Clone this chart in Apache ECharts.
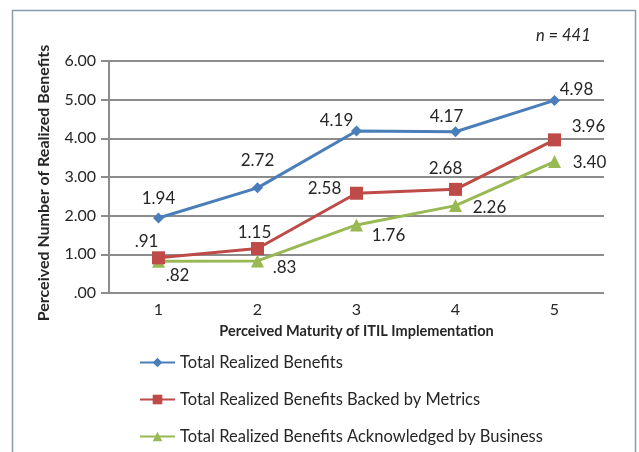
<!DOCTYPE html>
<html><head><meta charset="utf-8">
<script src="https://cdn.jsdelivr.net/npm/echarts@6/dist/echarts.min.js"></script>
<style>html,body{margin:0;padding:0;background:#fff}#c{width:639px;height:452px}</style>
</head><body><div id="c"></div>
<script>
var categories = ['1','2','3','4','5'];
var seriesNames = ['Total Realized Benefits','Total Realized Benefits Backed by Metrics','Total Realized Benefits Acknowledged by Business'];
var totalRealized = [1.94, 2.72, 4.19, 4.17, 4.98];
var backedByMetrics = [0.91, 1.15, 2.58, 2.68, 3.96];
var acknowledgedByBusiness = [0.82, 0.83, 1.76, 2.26, 3.40];
var yTicks = [0, 1, 2, 3, 4, 5, 6];

// label offsets (style only)
var offs = [
  [[0,-19],[0,-27],[-20,-10],[-9,-15],[22,-11]],
  [[-12,-16],[-3,-16],[-32,-5],[-10,-21],[34,-13]],
  [[19,14],[27,7],[32,11],[34,2],[35,1]]
];
function fmt(v){ var s = v.toFixed(2); return v < 1 ? s.slice(1) : s; }
function build(arr, k){
  return arr.map(function(v,i){
    return {value:v, label:{offset:offs[k][i]}};
  });
}
var FONT = 'Lato';
var colors = ['#4A7EBB','#BE4B48','#98B954'];
var symbols = ['diamond','rect','triangle'];
var sizes = [11,13,13];
var data = [totalRealized, backedByMetrics, acknowledgedByBusiness];
var series = data.map(function(arr,k){
  return {
    name: seriesNames[k], type:'line', data: build(arr,k),
    symbol: symbols[k], symbolSize: sizes[k],
    lineStyle:{width:3, color:colors[k]},
    itemStyle:{color:colors[k]},
    label:{show:true, position:'inside', formatter:function(p){return fmt(p.value);},
      color:'#262626', fontSize:17, fontFamily:FONT},
    emphasis:{disabled:true}, animation:false, z: 3-k
  };
});
var chart = echarts.init(document.getElementById('c'));
chart.setOption({
  animation:false,
  textStyle:{fontFamily:FONT},
  grid:{left:109, top:61, width:495, height:232},
  xAxis:{type:'category', data:categories, boundaryGap:true,
    axisLine:{show:false}, axisTick:{show:false},
    axisLabel:{color:'#262626', fontSize:16, fontFamily:FONT, margin:9},
    name:'Perceived Maturity of ITIL Implementation', nameLocation:'middle', nameGap:31,
    nameTextStyle:{color:'#262626', fontSize:14.5, fontWeight:'bold', fontFamily:FONT}},
  yAxis:{type:'value', min:0, max:6, interval:1,
    axisLine:{show:true, lineStyle:{color:'#8c8c8c', width:2}},
    axisTick:{show:true, length:8, lineStyle:{color:'#8c8c8c', width:2}},
    splitLine:{lineStyle:{color:'#8c8c8c', width:2}},
    axisLabel:{color:'#262626', fontSize:16, fontFamily:FONT, margin:13, formatter:function(v){return fmt(v);}},
    name:'Perceived Number of Realized Benefits', nameLocation:'middle', nameGap:57,
    nameTextStyle:{color:'#262626', fontSize:16, fontWeight:'bold', fontFamily:FONT, padding:[0,12,0,0]}},
  legend:{orient:'vertical', left:134, top:349, itemGap:20, itemWidth:35, itemHeight:12,
    textStyle:{color:'#262626', fontSize:16.5, lineHeight:17, fontFamily:FONT},
    data:seriesNames},
  graphic:[
    {type:'rect', shape:{x:12.5, y:10.5, width:623, height:460}, style:{fill:'none', stroke:'#8a9bb0', lineWidth:1.5}, z:-1},
    {type:'text', left:536, top:27, style:{text:'n = 441', font:'italic 16.5px '+FONT, fill:'#262626'}}
  ],
  series:series
});
</script></body></html>
